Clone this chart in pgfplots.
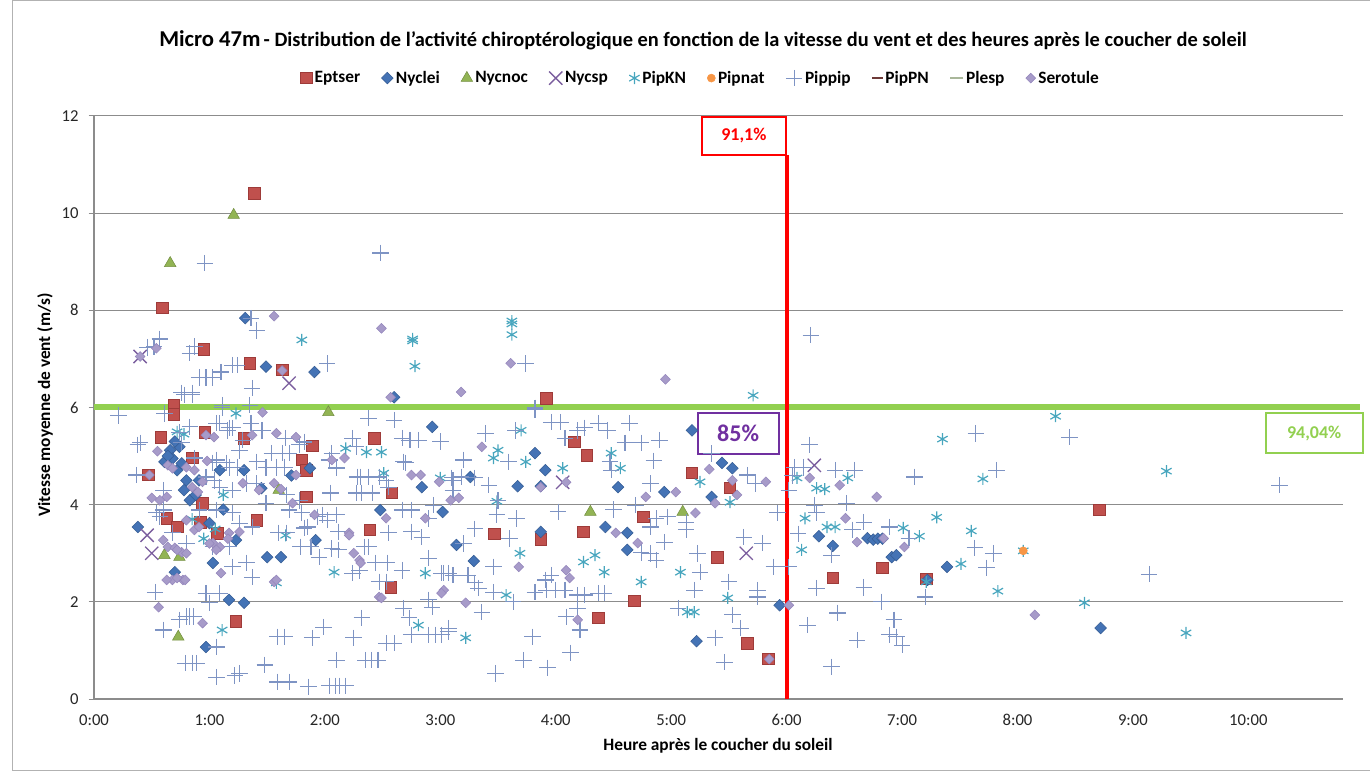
\documentclass[border=0pt]{standalone}
\usepackage{fontspec}
\setmainfont{Carlito}
\usepackage{pgfplots}
\pgfplotsset{compat=1.18}
\definecolor{axisgray}{HTML}{8C8C8C}
\definecolor{cEpt}{HTML}{C0504D}
\definecolor{cEptD}{HTML}{9E3B39}
\definecolor{cNyl}{HTML}{4473B5}
\definecolor{cNylD}{HTML}{355C94}
\definecolor{cNyn}{HTML}{92B454}
\definecolor{cNys}{HTML}{7B5E9E}
\definecolor{cKN}{HTML}{48A6BE}
\definecolor{cNat}{HTML}{F79646}
\definecolor{cPip}{HTML}{7E94C4}
\definecolor{cPN}{HTML}{6E3A38}
\definecolor{cPle}{HTML}{A9B79A}
\definecolor{cSer}{HTML}{A79BC9}
\definecolor{cSerD}{HTML}{9486BC}
\definecolor{cGreen}{HTML}{92D050}
\definecolor{cPurple}{HTML}{7030A0}
\begin{document}
\begin{tikzpicture}[x=0.75pt,y=0.75pt]
\useasboundingbox (0,0) rectangle (1370,771);
\draw[black!30, line width=0.75pt] (12,1) rectangle (1400,770);
\begin{axis}[
  at={(70.5pt,54pt)}, anchor=south west,
  scale only axis, width=936.75pt, height=437.25pt,
  xmin=0, xmax=10.82, ymin=0, ymax=12,
  axis x line*=bottom, axis y line*=left,
  axis line style={color=axisgray, line width=0.9pt},
  xtick={0,1,...,10},
  xticklabels={0:00,1:00,2:00,3:00,4:00,5:00,6:00,7:00,8:00,9:00,10:00},
  ytick={0,2,...,12},
  ymajorgrids, major grid style={color=axisgray, line width=0.75pt},
  tick align=outside, major tick length=4pt,
  xtick style={draw=none}, ytick style={color=axisgray, line width=0.75pt},
  tick label style={font=\fontsize{12.5}{14}\selectfont, text=black!85},
  yticklabel style={xshift=-4pt},
  xticklabel style={yshift=-4pt},
  /pgf/number format/assume math mode=true,
  clip=false,
  legend columns=10,
  legend style={at={(0.486,1.065)}, anchor=center, draw=none, fill=none,
    font=\bfseries\fontsize{13}{15}\selectfont,
    /tikz/every even column/.append style={column sep=14pt}},
  legend cell align=left,
]
% Eptser
\addplot[only marks, mark=square*, mark size=4.3pt, mark options={fill=cEpt, draw=cEptD, line width=0.5pt}] coordinates {
(1.39,10.41) (0.59,8.05) (0.95,7.2) (1.35,6.91) (1.63,6.77) (0.69,6.05) (0.69,5.86) (0.58,5.39) (0.96,5.49) (1.30,5.37)
(1.89,5.21) (1.80,4.92) (1.84,4.71) (0.47,4.61) (2.43,5.37) (2.58,4.24) (1.84,4.16) (1.41,3.68) (0.92,3.64) (0.94,4.03)
(0.63,3.72) (1.07,3.41) (1.23,1.6) (2.57,2.3) (2.39,3.48) (3.92,6.19) (4.16,5.29) (4.27,5.02) (3.47,3.4) (4.24,3.44)
(3.87,3.29) (4.37,1.67) (4.68,2.02) (4.76,3.75) (5.18,4.65) (5.40,2.92) (5.51,4.35) (5.66,1.15) (5.84,0.83) (6.40,2.49)
(6.83,2.7) (7.21,2.47) (8.71,3.89) (0.85,4.96) (0.72,3.54)
};
\addlegendentry{Eptser}
% Nyclei
\addplot[only marks, mark=square*, mark size=3.1pt, mark options={rotate=45, fill=cNyl, draw=cNylD, line width=0.4pt}] coordinates {
(1.31,7.84) (1.49,6.84) (1.91,6.73) (2.93,5.6) (5.18,5.53) (3.82,5.06) (3.91,4.71) (3.26,4.57) (3.67,4.38) (3.87,4.38)
(3.02,3.85) (3.14,3.17) (3.29,2.84) (3.87,3.44) (4.43,3.54) (4.62,3.42) (4.62,3.07) (4.54,4.36) (4.94,4.26) (5.44,4.86)
(5.35,4.16) (5.53,4.75) (5.22,1.19) (6.28,3.35) (6.40,3.15) (6.70,3.31) (6.75,3.28) (6.79,3.30) (6.83,3.30) (6.91,2.92)
(6.95,2.96) (7.39,2.72) (7.22,2.45) (5.94,1.93) (8.72,1.46) (1.50,2.92) (1.62,2.92) (1.92,3.27) (1.30,1.98) (1.17,2.04)
(2.84,4.36) (2.48,3.89) (1.87,4.75) (0.38,3.54) (0.70,2.61) (1.03,2.8) (0.97,1.07) (1.23,3.27) (0.80,4.5) (0.66,5.12)
(0.74,5.19) (0.68,4.95) (1.00,3.62) (0.83,4.09) (0.61,4.88) (0.72,4.71) (0.78,4.3) (0.91,4.5) (1.09,4.71) (1.30,4.71)
(1.45,4.34) (0.64,5.0) (0.70,5.3) (0.76,4.85) (0.88,4.2) (1.12,3.9) (2.60,6.21) (1.71,4.6)
};
\addlegendentry{Nyclei}
% Nycnoc
\addplot[only marks, mark=triangle*, mark size=5pt, mark options={fill=cNyn, draw=cNyn!80!black, line width=0.4pt}] coordinates {
(1.21,9.96) (0.66,8.97) (2.03,5.9) (4.30,3.85) (5.10,3.85) (0.73,1.28) (1.60,4.3) (0.61,2.96) (0.74,2.92)
};
\addlegendentry{Nycnoc}
% Nycsp
\addplot[only marks, mark=x, mark size=7pt, mark options={draw=cNys, line width=1pt}] coordinates {
(1.69,6.5) (0.46,3.37) (0.50,3.0) (4.06,4.46) (5.65,3.0) (6.24,4.81) (0.40,7.05)
};
\addlegendentry{Nycsp}
% PipKN
\addplot[only marks, mark=asterisk, mark size=4.5pt, mark options={draw=cKN, line width=0.9pt}] coordinates {
(3.62,7.78) (3.62,7.72) (3.62,7.5) (1.80,7.39) (2.76,7.41) (2.76,7.37) (2.78,6.85) (1.23,5.88) (5.71,6.25) (8.33,5.82)
(7.35,5.35) (7.70,4.53) (9.29,4.69) (8.58,1.98) (9.46,1.36) (7.83,2.22) (7.60,3.46) (7.51,2.78) (7.30,3.74) (7.15,3.35)
(7.01,3.52) (6.53,4.55) (6.33,4.32) (6.26,4.34) (6.16,3.72) (6.35,3.54) (6.42,3.54) (6.13,3.07) (7.21,2.41) (6.09,4.55)
(3.70,5.53) (3.50,5.12) (3.46,4.96) (3.74,4.88) (4.06,4.75) (4.48,5.06) (4.56,4.75) (5.25,4.47) (3.49,4.07) (3.69,3.0)
(4.24,2.82) (4.34,2.96) (4.42,2.61) (4.74,2.41) (5.08,2.61) (3.22,1.26) (3.57,2.14) (5.20,1.79) (5.14,1.79) (5.49,2.08)
(5.51,4.05) (2.18,5.16) (2.36,5.08) (2.49,5.08) (2.51,4.65) (2.08,2.61) (1.58,2.39) (2.81,1.52) (2.87,2.59) (1.66,3.37)
(1.11,1.42) (8.05,3.05) (0.72,5.5) (0.78,5.45) (1.05,3.5) (0.95,3.3) (1.12,4.2) (0.85,3.7) (3.0,4.55)
};
\addlegendentry{PipKN}
% Pipnat
\addplot[only marks, mark=*, mark size=3pt, mark options={fill=cNat, draw=cNat}] coordinates {
(8.05,3.05)
};
\addlegendentry{Pipnat}
% Pippip
\addplot[only marks, mark=+, mark size=6.2pt, mark options={draw=cPip, line width=0.8pt}] coordinates {
(0.96,8.97) (2.48,9.18) (6.21,7.49) (0.57,7.41) (0.46,7.24) (0.52,7.26) (0.83,7.12) (0.87,7.26) (1.36,7.84) (1.41,7.59)
(0.91,6.62) (0.97,6.62) (1.03,6.62) (1.10,6.73) (1.20,6.87) (1.24,6.87) (1.37,6.4) (0.76,6.3) (0.85,6.3) (2.02,6.91)
(0.21,5.84) (1.11,6.05) (1.35,6.05) (2.38,5.78) (2.60,5.74) (3.74,6.91) (3.82,5.95)
(0.38,5.23) (0.37,4.61) (0.61,5.88) (0.78,6.26) (0.85,6.26) (1.11,6.0) (1.06,5.68) (1.16,5.53) (1.06,4.92) (1.17,4.77)
(1.04,4.5) (0.60,4.3) (0.54,3.83) (0.40,5.27) (0.57,3.75) (0.53,2.2) (0.60,1.42) (0.74,1.63) (0.80,1.7) (0.83,1.7)
(0.86,1.7) (0.79,0.74) (0.85,0.74) (0.89,0.74) (1.06,0.45) (1.09,2.18) (1.20,2.72) (1.32,2.8) (1.37,2.51) (0.97,2.18)
(1.00,1.98) (1.06,1.07) (1.26,0.53) (1.22,0.48) (1.48,0.70) (1.59,1.28) (1.65,1.28) (1.59,0.35) (1.69,0.35) (1.86,0.25)
(2.04,0.27) (2.09,0.27) (2.13,0.27) (2.18,0.27) (1.89,1.26) (1.99,1.48) (2.10,0.80) (2.25,1.26) (2.32,1.67) (2.35,0.80)
(2.40,0.80) (2.46,0.80) (2.53,1.15) (2.60,1.15) (2.75,1.32) (2.90,1.32) (2.96,1.32) (3.07,1.38) (2.68,1.87) (2.73,1.67)
(2.90,2.04) (2.93,1.89) (2.47,2.41) (2.53,2.41) (2.67,2.65) (2.90,2.9) (3.01,2.59) (3.07,2.59) (1.79,3.13) (1.88,3.13)
(1.95,2.92) (2.06,3.1) (2.12,3.07) (2.24,2.59) (2.30,2.65) (2.34,3.13) (2.38,3.13) (2.44,2.8) (2.54,2.8) (2.12,3.44)
(1.82,3.52) (1.94,3.75) (2.02,3.68) (2.10,3.79) (2.10,4.77) (2.06,5.06) (2.28,4.57) (2.38,4.57) (2.47,4.57) (2.27,4.24)
(2.32,4.24) (2.41,4.24) (2.68,4.88) (2.73,5.33) (2.81,5.33) (2.67,3.89) (2.75,3.89) (2.55,3.42) (2.75,3.44) (2.84,3.33)
(3.11,4.5) (3.11,4.3) (2.90,3.72)
(1.03,4.86) (1.15,4.86) (1.24,4.77) (0.97,4.57) (1.09,4.36) (1.20,4.3) (1.32,4.44) (1.41,4.44) (1.49,4.77) (1.54,5.06)
(1.63,5.06) (1.69,5.06) (1.58,4.77) (1.65,4.77) (0.91,3.89) (1.06,3.89) (1.20,3.83) (1.26,3.62) (1.37,3.54) (1.03,3.13)
(1.17,3.13) (0.80,3.21) (0.68,3.42) (0.60,3.89) (1.67,4.2) (1.78,4.09) (1.69,3.89) (1.49,4.03) (0.87,4.96) (0.76,5.27)
(0.83,5.6) (0.74,5.49) (1.09,5.68) (1.17,5.58) (1.20,5.58) (1.36,5.68) (1.46,5.53) (1.29,5.33) (1.66,5.37) (1.78,5.23)
(1.41,4.88) (1.26,5.12)
(2.67,5.37) (2.74,5.33) (1.45,5.53) (1.82,5.29) (2.24,5.37) (2.27,5.19) (2.04,4.92) (2.10,4.75) (2.70,4.86) (2.31,4.57)
(2.53,4.5) (2.55,4.36) (2.05,4.24) (2.94,3.99) (1.80,3.83) (1.98,3.79) (1.60,3.42) (1.67,3.42) (1.85,3.54)
(3.82,5.99) (3.96,5.7) (4.04,5.7) (3.39,5.47) (3.65,5.53) (4.08,5.37) (4.19,5.53) (4.25,5.58) (4.37,5.68) (4.45,5.53)
(4.64,5.68) (4.60,5.27) (4.74,5.27) (4.90,5.33) (3.20,4.92) (3.59,4.88) (4.47,4.88) (4.48,4.71) (3.10,4.55) (3.18,4.57)
(3.30,4.55) (3.42,4.4) (3.50,4.09) (3.49,3.79) (3.66,3.72) (4.02,3.85) (4.82,4.44) (4.69,3.99) (4.87,3.72) (4.97,3.75)
(4.82,3.54) (4.94,3.23) (5.13,3.64) (5.13,3.48) (4.74,3.02) (4.82,3.0) (4.87,2.86) (5.23,3.0) (5.25,2.61) (5.63,3.33)
(5.79,3.21) (5.89,2.72) (5.50,2.41) (5.75,2.24) (5.75,2.1) (5.20,2.24) (5.06,1.87) (5.53,1.73) (5.60,1.46) (5.38,1.26)
(5.46,0.76) (3.48,0.53) (3.72,0.80) (3.93,0.64) (4.13,0.95) (4.21,1.42) (3.80,1.28) (4.09,1.69) (4.19,1.87) (3.82,2.2)
(3.92,2.24) (4.00,2.24) (4.08,2.24) (4.19,2.14) (4.25,2.14) (4.37,2.18) (4.42,2.18) (3.91,2.45) (3.96,2.55) (3.46,2.72)
(3.46,2.2) (3.33,2.28) (3.63,2.0) (3.36,1.79) (3.07,1.46) (3.01,1.32) (3.03,2.59) (3.11,2.55) (3.24,2.55) (3.30,2.39)
(5.92,3.83) (5.66,4.61) (5.73,4.44) (3.30,3.5) (3.20,3.2) (3.6,3.3) (4.5,3.9) (3.0,5.3) (4.85,4.9) (5.35,5.05)
(6.20,5.23) (6.07,4.77) (6.15,4.77) (6.42,4.71) (6.59,4.71) (7.11,4.57) (7.64,5.47) (6.52,4.03) (6.24,3.99) (6.26,3.83)
(6.67,3.64) (6.89,3.54) (7.06,3.31) (6.57,3.48) (6.39,2.96) (6.02,2.72) (6.26,2.28) (6.67,2.30) (7.20,2.10) (6.44,1.77)
(6.82,2.0) (6.18,1.52) (6.93,1.63) (6.89,1.32) (6.95,1.28) (7.00,1.11) (6.61,1.21) (6.39,0.66) (8.45,5.39) (7.82,4.71)
(10.27,4.40) (7.63,3.11) (7.79,3.0) (7.73,2.70) (9.14,2.57) (6.05,4.6) (6.02,4.3) (6.1,3.4)
};
\addlegendentry{Pippip}
\addlegendimage{only marks, mark=-, mark size=4pt, mark options={draw=cPN, line width=1.2pt}}
\addlegendentry{PipPN}
\addlegendimage{only marks, mark=-, mark size=5pt, mark options={draw=cPle, line width=1.2pt}}
\addlegendentry{Plesp}
% Serotule
\addplot[only marks, mark=square*, mark size=2.6pt, mark options={rotate=45, fill=cSer, draw=cSerD, line width=0.4pt}] coordinates {
(1.56,7.88) (2.49,7.63) (0.54,7.22) (0.40,7.05) (1.63,6.76) (2.57,6.21) (1.46,5.9) (3.18,6.32) (3.61,6.91) (4.95,6.58)
(3.36,5.19) (3.87,4.36) (4.09,4.46) (5.33,4.73) (5.53,4.5) (5.57,4.2) (5.38,4.03) (5.21,3.83) (4.52,3.42) (4.71,3.21)
(4.09,2.65) (4.12,2.49) (4.19,1.63) (3.68,2.72) (3.22,1.98) (3.03,2.24) (3.16,4.14) (5.85,0.82) (4.78,4.16) (5.04,4.26)
(5.82,4.47) (6.20,4.55) (6.46,4.4) (6.78,4.16) (6.51,3.72) (6.61,3.23) (6.84,3.31) (7.02,3.13) (6.02,1.93) (8.15,1.73)
(0.50,4.14) (0.57,4.09) (0.63,4.16) (0.48,4.61) (0.64,4.81) (0.68,4.75) (0.80,4.77) (0.87,4.71) (0.94,4.47) (0.60,3.27)
(0.64,3.13) (0.70,3.11) (0.76,3.02) (0.80,3.0) (0.68,2.45) (0.77,2.45) (0.56,1.89) (0.94,1.56) (0.85,4.36) (0.90,4.26)
(1.09,3.13) (1.26,3.44) (1.17,3.42) (1.29,4.44) (1.43,4.3) (1.56,4.44) (1.72,4.03) (1.75,4.61) (1.75,5.39) (1.58,5.47)
(1.37,5.43) (1.04,5.39) (0.97,5.43) (2.06,4.92) (1.91,3.79) (2.21,3.42) (2.25,3.0) (2.30,2.86) (2.31,2.8) (2.17,4.96)
(2.75,4.61) (2.83,4.61) (2.99,4.47) (3.09,4.09) (2.87,3.72) (2.53,3.72) (2.47,2.1) (1.56,2.41) (0.80,3.68) (0.87,3.48)
(0.91,3.54) (1.03,3.21) (1.06,3.07) (0.63,2.45) (0.72,2.49) (0.79,2.45) (1.10,2.59) (0.72,3.07) (1.58,2.45) (2.49,2.08)
(3.01,2.18) (2.21,3.37) (1.16,3.3) (1.0,3.2) (0.98,4.9) (0.55,5.1) (1.62,4.32)
};
\addlegendentry{Serotule}
% reference lines and labels
\draw[color=cGreen, line width=4.5pt] (axis cs:0,6) -- (axis cs:10.97,6);
\draw[color=red, line width=3pt] (axis cs:6,0) -- (axis cs:6,11.2);
\draw[color=red, line width=1.5pt, fill=white] (axis cs:5.27,11.98) rectangle (axis cs:5.995,11.2);
\node[text=red, font=\bfseries\fontsize{13.5}{15}\selectfont] at (axis cs:5.63,11.59) {91,1\%};
\draw[color=cPurple, line width=1.5pt, fill=white] (axis cs:5.23,5.885) rectangle (axis cs:5.935,5.04);
\node[text=cPurple, font=\bfseries\fontsize{18}{20}\selectfont] at (axis cs:5.58,5.46) {85\%};
\draw[color=cGreen, line width=1.5pt, fill=white] (axis cs:10.15,5.885) rectangle (axis cs:10.99,5.06);
\node[text=cGreen, font=\bfseries\fontsize{13.5}{15}\selectfont] at (axis cs:10.57,5.47) {94,04\%};
\end{axis}
\node[font=\bfseries, anchor=center] at (703,731) {{\fontsize{17}{19}\selectfont Micro 47m} {\fontsize{15.3}{18}\selectfont - Distribution de l’activité chiroptérologique en fonction de la vitesse du vent et des heures après le coucher de soleil}};
\node[font=\bfseries\fontsize{13}{15}\selectfont, rotate=90] at (45,366) {Vitesse moyenne de vent (m/s)};
\node[font=\bfseries\fontsize{13}{15}\selectfont] at (718,25) {Heure après le coucher du soleil};
\end{tikzpicture}
\end{document}
